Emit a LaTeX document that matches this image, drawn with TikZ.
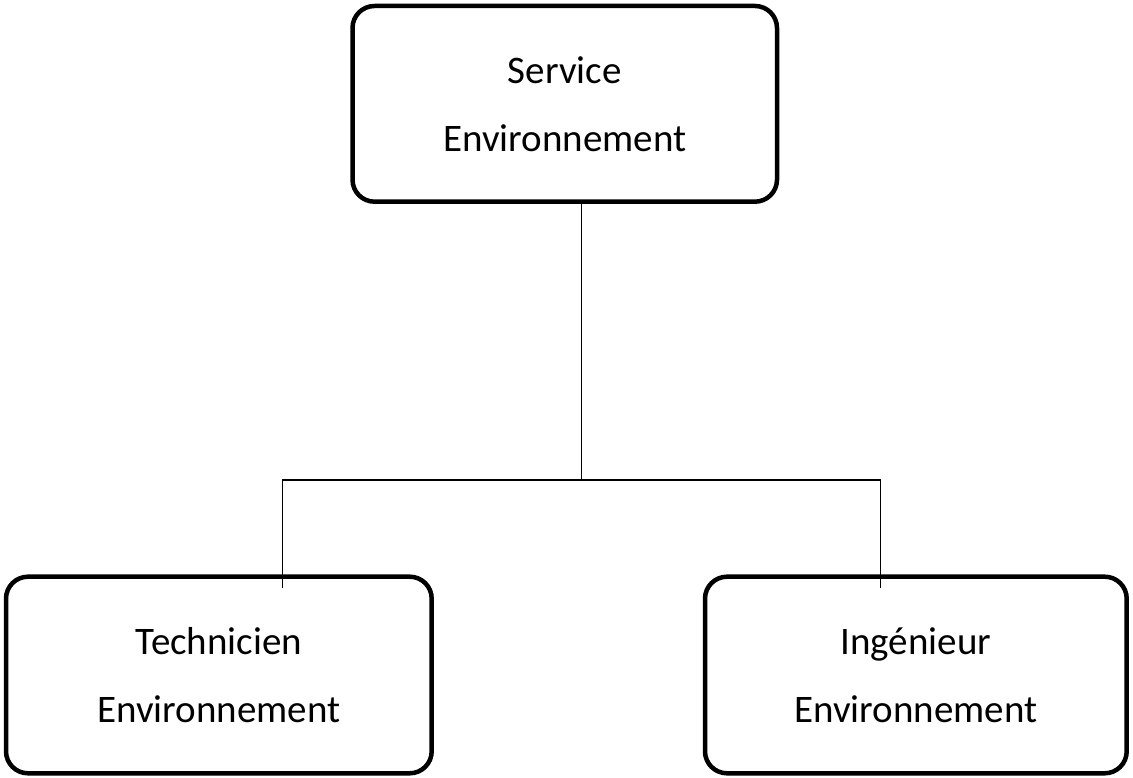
\documentclass[tikz,border=0pt]{standalone}
\usepackage{fontspec}
\setmainfont{Carlito}
\begin{document}
\begin{tikzpicture}[x=1pt,y=1pt,
  unit/.style={draw=black, line width=4.5pt, rounded corners=22pt,
    align=center, inner sep=0pt, font=\fontsize{39}{68}\selectfont},
  link/.style={draw=black, line width=1.4pt}]
\useasboundingbox (0,0) rectangle (1133,778);
% boxes
\node[unit, minimum width=424.5pt, minimum height=195.7pt] (svc) at (564.75,674.15)
  {Service\\Environnement};
\node[unit, minimum width=425.7pt, minimum height=196.6pt] (tech) at (218.85,103)
  {Technicien\\Environnement};
\node[unit, minimum width=421.7pt, minimum height=196.6pt] (ing) at (915.85,103)
  {Ingénieur\\Environnement};
% branch points
\coordinate (bus) at (581.7,298);
\coordinate (endL) at (282.7,190);
\coordinate (endR) at (880.7,190);
% connectors
\draw[link] (svc.south -| bus) -- (bus);
\draw[link] (endL) |- (bus) -| (endR);
\end{tikzpicture}
\end{document}
